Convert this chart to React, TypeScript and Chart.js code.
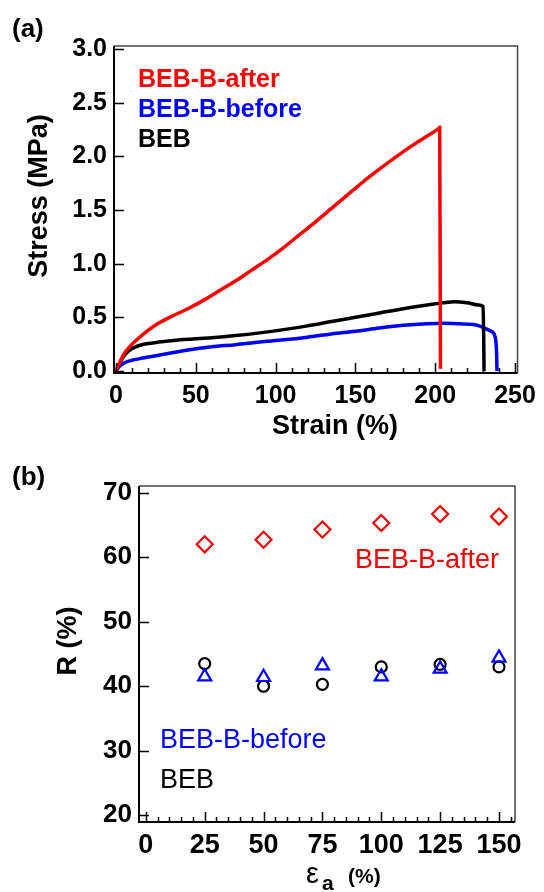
import React, { useEffect, useRef } from 'react';
import { Chart, registerables } from 'chart.js';

Chart.register(...registerables);

const FONT = '"Liberation Sans", Arial, Helvetica, sans-serif';

// ---------- Panel (a): stress-strain curves ----------
const afterStrain = [0, 2, 5, 10, 16, 25, 35, 45, 55, 65, 75, 85, 95, 105, 115, 125, 135, 145, 155, 165, 175, 185, 195, 202.3, 202.8, 203.1, 203.3];
const afterStress = [0, 0.07, 0.16, 0.25, 0.33, 0.43, 0.51, 0.58, 0.66, 0.75, 0.84, 0.94, 1.04, 1.15, 1.27, 1.39, 1.515, 1.64, 1.765, 1.88, 1.99, 2.095, 2.19, 2.262, 2.27, 1.0, 0.02];

const bebStrain = [0, 2, 4, 6, 9, 14, 20, 30, 45, 60, 75, 90, 105, 120, 135, 150, 165, 180, 195, 205, 212, 220, 227, 230, 230.4, 230.6];
const bebStress = [0, 0.06, 0.12, 0.16, 0.2, 0.235, 0.255, 0.275, 0.295, 0.31, 0.33, 0.355, 0.385, 0.42, 0.46, 0.5, 0.54, 0.58, 0.615, 0.635, 0.645, 0.635, 0.615, 0.6, 0.3, 0.0];

const beforeStrain = [0, 2, 5, 10, 15, 20, 30, 45, 60, 75, 90, 105, 120, 135, 150, 165, 180, 195, 205, 215, 225, 231, 235, 237.5, 238.5, 238.7];
const beforeStress = [0, 0.04, 0.075, 0.1, 0.115, 0.13, 0.155, 0.195, 0.225, 0.245, 0.27, 0.29, 0.315, 0.345, 0.37, 0.4, 0.425, 0.44, 0.445, 0.44, 0.43, 0.4, 0.37, 0.32, 0.15, 0.0];

const aXTicks = [0, 50, 100, 150, 200, 250];
const aYTicks = [0, 0.5, 1.0, 1.5, 2.0, 2.5, 3.0];

// ---------- Panel (b): R vs applied strain ----------
const bStrain = [25, 50, 75, 100, 125, 150];
const bAfter = [62.0, 62.7, 64.3, 65.3, 66.7, 66.3];
const bBefore = [41.5, 41.4, 43.2, 41.5, 42.7, 44.4];
const bBEB = [43.5, 40.0, 40.3, 43.0, 43.4, 43.0];

const bXTicks = [0, 25, 50, 75, 100, 125, 150];
const bYTicks = [20, 30, 40, 50, 60, 70];

type TextItem = {
  text: string;
  x: number;
  y: number;
  font: string;
  color: string;
  align?: CanvasTextAlign;
  baseline?: CanvasTextBaseline;
  rotate?: boolean;
};

function range(from: number, to: number, step: number) {
  const out: number[] = [];
  for (let v = from; v <= to + 1e-9; v += step) out.push(v);
  return out;
}

function framePlugin(opts: {
  xMajor: number[];
  xMinor: number[];
  yMajor: number[];
  majorLen: number;
  minorLen: number;
  texts: TextItem[];
}) {
  return {
    id: 'frameAndTexts',
    afterDraw(chart: any) {
      const ctx: CanvasRenderingContext2D = chart.ctx;
      const a = chart.chartArea;
      const xs = chart.scales.x;
      const ys = chart.scales.y;
      ctx.save();
      ctx.strokeStyle = '#444';
      ctx.lineWidth = 1.5;
      ctx.beginPath();
      ctx.moveTo(a.left, a.top);
      ctx.lineTo(a.right, a.top);
      ctx.lineTo(a.right, a.bottom);
      ctx.stroke();
      ctx.strokeStyle = '#000';
      ctx.lineWidth = 2;
      ctx.beginPath();
      ctx.moveTo(a.left, a.top);
      ctx.lineTo(a.left, a.bottom);
      ctx.lineTo(a.right, a.bottom);
      ctx.stroke();
      ctx.lineWidth = 1.5;
      ctx.beginPath();
      for (const v of opts.xMinor) {
        const px = Math.round(xs.getPixelForValue(v)) + 0.5;
        ctx.moveTo(px, a.bottom);
        ctx.lineTo(px, a.bottom - opts.minorLen);
      }
      for (const v of opts.xMajor) {
        const px = Math.round(xs.getPixelForValue(v)) + 0.5;
        ctx.moveTo(px, a.bottom);
        ctx.lineTo(px, a.bottom - opts.majorLen);
      }
      for (const v of opts.yMajor) {
        const py = Math.round(ys.getPixelForValue(v)) + 0.5;
        ctx.moveTo(a.left, py);
        ctx.lineTo(a.left + opts.majorLen, py);
      }
      ctx.stroke();
      for (const t of opts.texts) {
        ctx.save();
        ctx.font = t.font;
        ctx.fillStyle = t.color;
        ctx.textAlign = t.align || 'left';
        ctx.textBaseline = t.baseline || 'middle';
        ctx.translate(t.x, t.y);
        if (t.rotate) ctx.rotate(-Math.PI / 2);
        ctx.fillText(t.text, 0, 0);
        ctx.restore();
      }
      ctx.restore();
    },
  };
}

const toPts = (xs: number[], ys: number[]) => xs.map((x, i) => ({ x, y: ys[i] }));

function lineDs(label: string, xs: number[], ys: number[], color: string) {
  return {
    label,
    data: toPts(xs, ys),
    showLine: true,
    borderColor: color,
    backgroundColor: color,
    borderWidth: 3.5,
    pointRadius: 0,
    cubicInterpolationMode: 'monotone',
    fill: false,
  };
}

export default function App() {
  const refA = useRef<HTMLCanvasElement>(null);
  const refB = useRef<HTMLCanvasElement>(null);

  useEffect(() => {
    const tickFontA = { family: FONT, size: 25, weight: 'bold' as const };
    const chartA = new Chart(refA.current as HTMLCanvasElement, {
      type: 'scatter',
      data: {
        datasets: [
          lineDs('BEB-B-after', afterStrain, afterStress, '#ff0000'),
          lineDs('BEB', bebStrain, bebStress, '#000000'),
          lineDs('BEB-B-before', beforeStrain, beforeStress, '#0000ff'),
        ] as any,
      },
      options: {
        responsive: false,
        animation: false,
        devicePixelRatio: 1,
        layout: { padding: { top: 46, right: 23, left: 0, bottom: 0 } },
        plugins: { legend: { display: false }, tooltip: { enabled: false } },
        scales: {
          x: {
            type: 'linear',
            min: -1.3,
            max: 251.6,
            grid: { display: false, drawTicks: false },
            border: { display: false },
            ticks: { font: tickFontA, color: '#000', padding: 8, maxRotation: 0, autoSkip: false },
            afterBuildTicks: (s: any) => {
              s.ticks = aXTicks.map((v) => ({ value: v }));
            },
            afterFit: (s: any) => {
              s.height = 67;
            },
          },
          y: {
            type: 'linear',
            min: -0.019,
            max: 3.028,
            grid: { display: false, drawTicks: false },
            border: { display: false },
            ticks: {
              font: tickFontA,
              color: '#000',
              padding: 7,
              autoSkip: false,
              callback: (v: any) => Number(v).toFixed(1),
            },
            afterBuildTicks: (s: any) => {
              s.ticks = aYTicks.map((v) => ({ value: v }));
            },
            afterFit: (s: any) => {
              s.width = 114;
            },
          },
        },
      } as any,
      plugins: [
        framePlugin({
          xMajor: aXTicks,
          xMinor: range(0, 250, 10),
          yMajor: aYTicks,
          majorLen: 10,
          minorLen: 5,
          texts: [
            { text: '(a)', x: 12, y: 30, font: `bold 26px ${FONT}`, color: '#000' },
            { text: 'Stress (MPa)', x: 40, y: 196, font: `bold 27px ${FONT}`, color: '#000', align: 'center', rotate: true },
            { text: 'Strain (%)', x: 335, y: 427, font: `bold 27px ${FONT}`, color: '#000', align: 'center' },
            { text: 'BEB-B-after', x: 138, y: 86.5, font: `bold 25px ${FONT}`, color: '#ff0000', baseline: 'alphabetic' },
            { text: 'BEB-B-before', x: 138, y: 116.5, font: `bold 25px ${FONT}`, color: '#0000ff', baseline: 'alphabetic' },
            { text: 'BEB', x: 138, y: 146.5, font: `bold 25px ${FONT}`, color: '#000', baseline: 'alphabetic' },
          ],
        }) as any,
      ],
    });

    const tickFontB = { family: FONT, size: 26, weight: 'bold' as const };
    const chartB = new Chart(refB.current as HTMLCanvasElement, {
      type: 'scatter',
      data: {
        datasets: [
          {
            label: 'BEB-B-after',
            data: toPts(bStrain, bAfter),
            pointStyle: 'rectRot',
            pointRadius: 8,
            borderColor: '#ee0000',
            backgroundColor: 'rgba(0,0,0,0)',
            pointBorderWidth: 2.2,
          },
          {
            label: 'BEB-B-before',
            data: toPts(bStrain, bBefore),
            pointStyle: 'triangle',
            pointRadius: 7.5,
            borderColor: '#0000ff',
            backgroundColor: 'rgba(0,0,0,0)',
            pointBorderWidth: 2.2,
          },
          {
            label: 'BEB',
            data: toPts(bStrain, bBEB),
            pointStyle: 'circle',
            pointRadius: 5.5,
            borderColor: '#000000',
            backgroundColor: 'rgba(0,0,0,0)',
            pointBorderWidth: 2.2,
          },
        ] as any,
      },
      options: {
        responsive: false,
        animation: false,
        devicePixelRatio: 1,
        layout: { padding: { top: 46, right: 29, left: 0, bottom: 0 } },
        plugins: { legend: { display: false }, tooltip: { enabled: false } },
        scales: {
          x: {
            type: 'linear',
            min: -2.9,
            max: 156.8,
            grid: { display: false, drawTicks: false },
            border: { display: false },
            ticks: { font: { ...tickFontB, size: 27 }, color: '#000', padding: 7, maxRotation: 0, autoSkip: false },
            afterBuildTicks: (s: any) => {
              s.ticks = bXTicks.map((v) => ({ value: v }));
            },
            afterFit: (s: any) => {
              s.height = 70;
            },
          },
          y: {
            type: 'linear',
            min: 18.96,
            max: 71.04,
            grid: { display: false, drawTicks: false },
            border: { display: false },
            ticks: { font: tickFontB, color: '#000', padding: 7, autoSkip: false },
            afterBuildTicks: (s: any) => {
              s.ticks = bYTicks.map((v) => ({ value: v }));
            },
            afterFit: (s: any) => {
              s.width = 139;
            },
          },
        },
      } as any,
      plugins: [
        framePlugin({
          xMajor: bXTicks,
          xMinor: range(0, 155, 5),
          yMajor: bYTicks,
          majorLen: 10,
          minorLen: 5,
          texts: [
            { text: '(b)', x: 12, y: 38, font: `bold 26px ${FONT}`, color: '#000' },
            { text: 'R (%)', x: 69, y: 201, font: `bold 27px ${FONT}`, color: '#000', align: 'center', rotate: true },
            { text: 'ε', x: 306, y: 443, font: `29px ${FONT}`, color: '#000', baseline: 'alphabetic' },
            { text: 'a', x: 322, y: 450, font: `bold 21px ${FONT}`, color: '#000', baseline: 'alphabetic' },
            { text: '(%)', x: 348, y: 443, font: `bold 21px ${FONT}`, color: '#000', baseline: 'alphabetic' },
            { text: 'BEB-B-after', x: 355, y: 121, font: `27px ${FONT}`, color: '#ee0000' },
            { text: 'BEB-B-before', x: 160, y: 301, font: `27px ${FONT}`, color: '#0000ff' },
            { text: 'BEB', x: 160, y: 340.7, font: `27px ${FONT}`, color: '#000' },
          ],
        }) as any,
      ],
    });

    return () => {
      chartA.destroy();
      chartB.destroy();
    };
  }, []);

  return (
    <div style={{ position: 'absolute', left: 0, top: 0, width: 544, height: 892, background: '#fff' }}>
      <canvas
        ref={refA}
        width={544}
        height={440}
        style={{ position: 'absolute', left: 0, top: 0, width: 544, height: 440 }}
      />
      <canvas
        ref={refB}
        width={544}
        height={452}
        style={{ position: 'absolute', left: 0, top: 440, width: 544, height: 452 }}
      />
    </div>
  );
}
